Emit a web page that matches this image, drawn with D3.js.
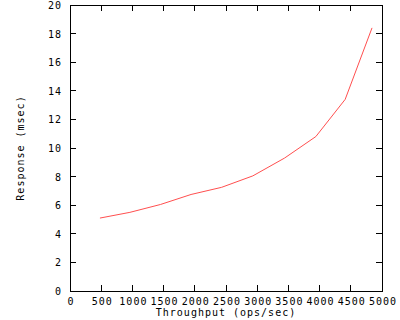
<!DOCTYPE html>
<html>
<head>
<meta charset="utf-8">
<script src="https://cdn.jsdelivr.net/npm/d3@7"></script>
<style>
  body { margin: 0; background: #fff; }
  text { font-family: "DejaVu Sans Mono", monospace; font-size: 10px; letter-spacing: 1px; fill: #000; }
</style>
</head>
<body>
<div id="chart"></div>
<script>
// data
var throughput = [480, 960, 1450, 1940, 2430, 2930, 3440, 3940, 4410, 4840];
var response   = [5.1, 5.5, 6.05, 6.75, 7.25, 8.05, 9.3, 10.8, 13.4, 18.4];
var xTicks = [0, 500, 1000, 1500, 2000, 2500, 3000, 3500, 4000, 4500, 5000];
var yTicks = [0, 2, 4, 6, 8, 10, 12, 14, 16, 18, 20];

var width = 400, height = 320;
var plotLeft = 70, plotRight = 382, plotTop = 5, plotBottom = 291;

var svg = d3.select("#chart").append("svg")
    .attr("width", width)
    .attr("height", height);

var x = d3.scaleLinear().domain([0, 5000]).range([plotLeft, plotRight]);
var y = d3.scaleLinear().domain([0, 20]).range([plotBottom, plotTop]);

// ticks, gnuplot style: inside, mirrored
var tl = 6;
var g = svg.append("g").attr("stroke", "#000").attr("shape-rendering", "crispEdges");
xTicks.forEach(function(t) {
  g.append("line").attr("x1", x(t)).attr("x2", x(t)).attr("y1", plotBottom).attr("y2", plotBottom - tl);
  g.append("line").attr("x1", x(t)).attr("x2", x(t)).attr("y1", plotTop).attr("y2", plotTop + tl);
});
yTicks.forEach(function(t) {
  g.append("line").attr("x1", plotLeft).attr("x2", plotLeft + tl).attr("y1", y(t)).attr("y2", y(t));
  g.append("line").attr("x1", plotRight).attr("x2", plotRight - tl).attr("y1", y(t)).attr("y2", y(t));
});

// tick labels
svg.append("g").selectAll("text").data(xTicks).enter().append("text")
    .attr("x", function(d) { return x(d) + 1; })
    .attr("y", 305)
    .attr("text-anchor", "middle")
    .text(function(d) { return d; });

svg.append("g").selectAll("text").data(yTicks).enter().append("text")
    .attr("x", 62)
    .attr("y", function(d) { return y(d) + 4; })
    .attr("text-anchor", "end")
    .text(function(d) { return d; });

// axis titles
svg.append("text")
    .attr("x", 226).attr("y", 316)
    .attr("text-anchor", "middle")
    .text("Throughput (ops/sec)");

svg.append("text")
    .attr("transform", "translate(24,148) rotate(-90)")
    .attr("text-anchor", "middle")
    .text("Response (msec)");

// the curve
var line = d3.line()
    .x(function(d, i) { return x(throughput[i]); })
    .y(function(d) { return y(d); });

svg.append("path")
    .datum(response)
    .attr("d", line)
    .attr("fill", "none")
    .attr("stroke", "#ff4f4f")
    .attr("stroke-width", 1);

// border
svg.append("rect")
    .attr("x", plotLeft).attr("y", plotTop)
    .attr("width", plotRight - plotLeft).attr("height", plotBottom - plotTop)
    .attr("fill", "none")
    .attr("stroke", "#000")
    .attr("shape-rendering", "crispEdges");
</script>
</body>
</html>
